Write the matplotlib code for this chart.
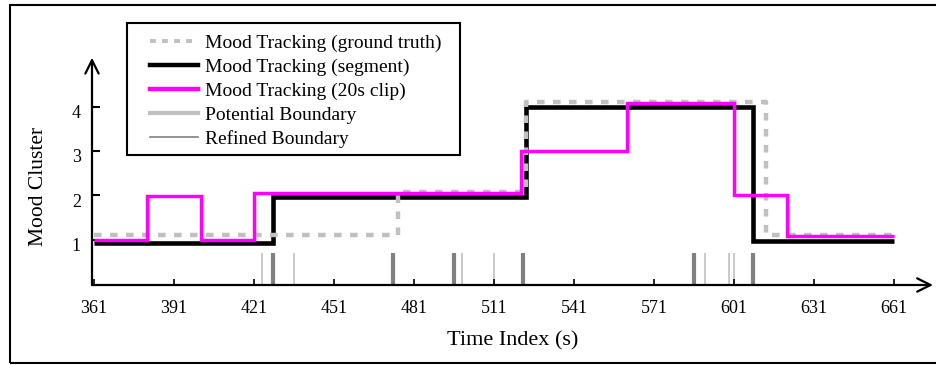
import numpy as np
import matplotlib.pyplot as plt
import matplotlib.patches as patches
from matplotlib.lines import Line2D
from matplotlib.transforms import ScaledTranslation

plt.rcParams['font.family'] = ['Liberation Serif', 'DejaVu Serif']

# step series: change points (s) and level held from each point
gt_t = [361, 475, 523, 613, 661]
gt_v = [1.10, 2.08, 4.10, 1.10, 1.10]

seg_t = [361, 428, 523, 608, 661]
seg_v = [0.93, 1.95, 4.00, 0.97, 0.97]

clip_t = [361, 381, 401, 421, 521, 561, 601, 621, 661]
clip_v = [1.00, 1.98, 0.99, 2.04, 3.00, 4.08, 2.00, 1.09, 1.09]

potential = [424, 436, 499, 511, 590, 599, 601]
refined = [428, 473, 496, 522, 586, 608]

xticks = [361, 391, 421, 451, 481, 511, 541, 571, 601, 631, 661]
yticks = [1, 2, 3, 4]

fig = plt.figure(figsize=(9.37, 3.65), dpi=100)
ax = fig.add_axes([92/937, 1 - 285/365, 841/937, 225/365])

ymin, ymax = -0.025, 5.05
ax.set_xlim(360.25, 675.6)
ax.set_ylim(ymin, ymax)

# boundaries
ax.vlines(potential, ymin, 0.69, color='#c0c0c0', lw=1.2, zorder=1)
ax.vlines(refined, ymin, 0.69, color='#808080', lw=3.0, zorder=1)

ax.step(seg_t, seg_v, where='post', color='black', lw=3.3,
        solid_joinstyle='miter', solid_capstyle='butt', zorder=2)
ax.step(gt_t, gt_v, where='post', color='#c0c0c0', lw=3.2,
        dashes=(1.7, 1.9), dash_capstyle='butt', zorder=3)
ax.step(clip_t, clip_v, where='post', color='#ff00ff', lw=2.5,
        solid_joinstyle='miter', solid_capstyle='butt', zorder=4)

# axes with arrows
for side in ['top', 'right', 'left', 'bottom']:
    ax.spines[side].set_visible(False)
arrow = dict(arrowstyle='->', lw=1.6, color='black', mutation_scale=24,
             shrinkA=0, shrinkB=0)
ax.annotate('', xy=(1, 0), xytext=(0, 0), xycoords='axes fraction', arrowprops=arrow)
ax.annotate('', xy=(0, 1.01), xytext=(0, 0), xycoords='axes fraction', arrowprops=arrow)

ax.set_xticks(xticks)
ax.set_yticks(yticks)
ax.tick_params(axis='x', direction='in', length=4.5, width=1.2, pad=11, labelsize=13)
ax.tick_params(axis='y', direction='in', length=6, width=1.5, pad=8, labelsize=13)
for lab in ax.get_yticklabels():
    lab.set_transform(lab.get_transform() + ScaledTranslation(0, -5/100, fig.dpi_scale_trans))

ax.set_xlabel('Time Index (s)', fontsize=16, labelpad=10)
ax.set_ylabel('Mood Cluster', fontsize=15.5)
ax.yaxis.set_label_coords(-0.052, 0.436)

handles = [
    Line2D([], [], color='#c0c0c0', lw=2.8, dashes=(1.5, 1.6), dash_capstyle='butt'),
    Line2D([], [], color='black', lw=3.2),
    Line2D([], [], color='#ff00ff', lw=3.2),
    Line2D([], [], color='#c0c0c0', lw=3.0),
    Line2D([], [], color='#808080', lw=1.2),
]
labels = ['Mood Tracking (ground truth)', 'Mood Tracking (segment)',
          'Mood Tracking (20s clip)', 'Potential Boundary', 'Refined Boundary']
leg = fig.legend(handles, labels, loc='upper left',
                 bbox_to_anchor=(150/937, 1 - 34/365),
                 borderaxespad=0, borderpad=0, fontsize=14, handlelength=2.45,
                 handletextpad=0.38, labelspacing=0.33, frameon=False)

# legend box and outer frame
fig.patches.append(patches.Rectangle((127/937, 1 - 155/365), 333/937, 132/365,
                                     fill=False, lw=1.5, ec='black',
                                     transform=fig.transFigure, zorder=10))
fig.patches.append(patches.Rectangle((10/937, 2/365), 1.2, 358/365, fill=False,
                                     lw=1.5, ec='black', transform=fig.transFigure))

fig.savefig('out.png', dpi=100)
